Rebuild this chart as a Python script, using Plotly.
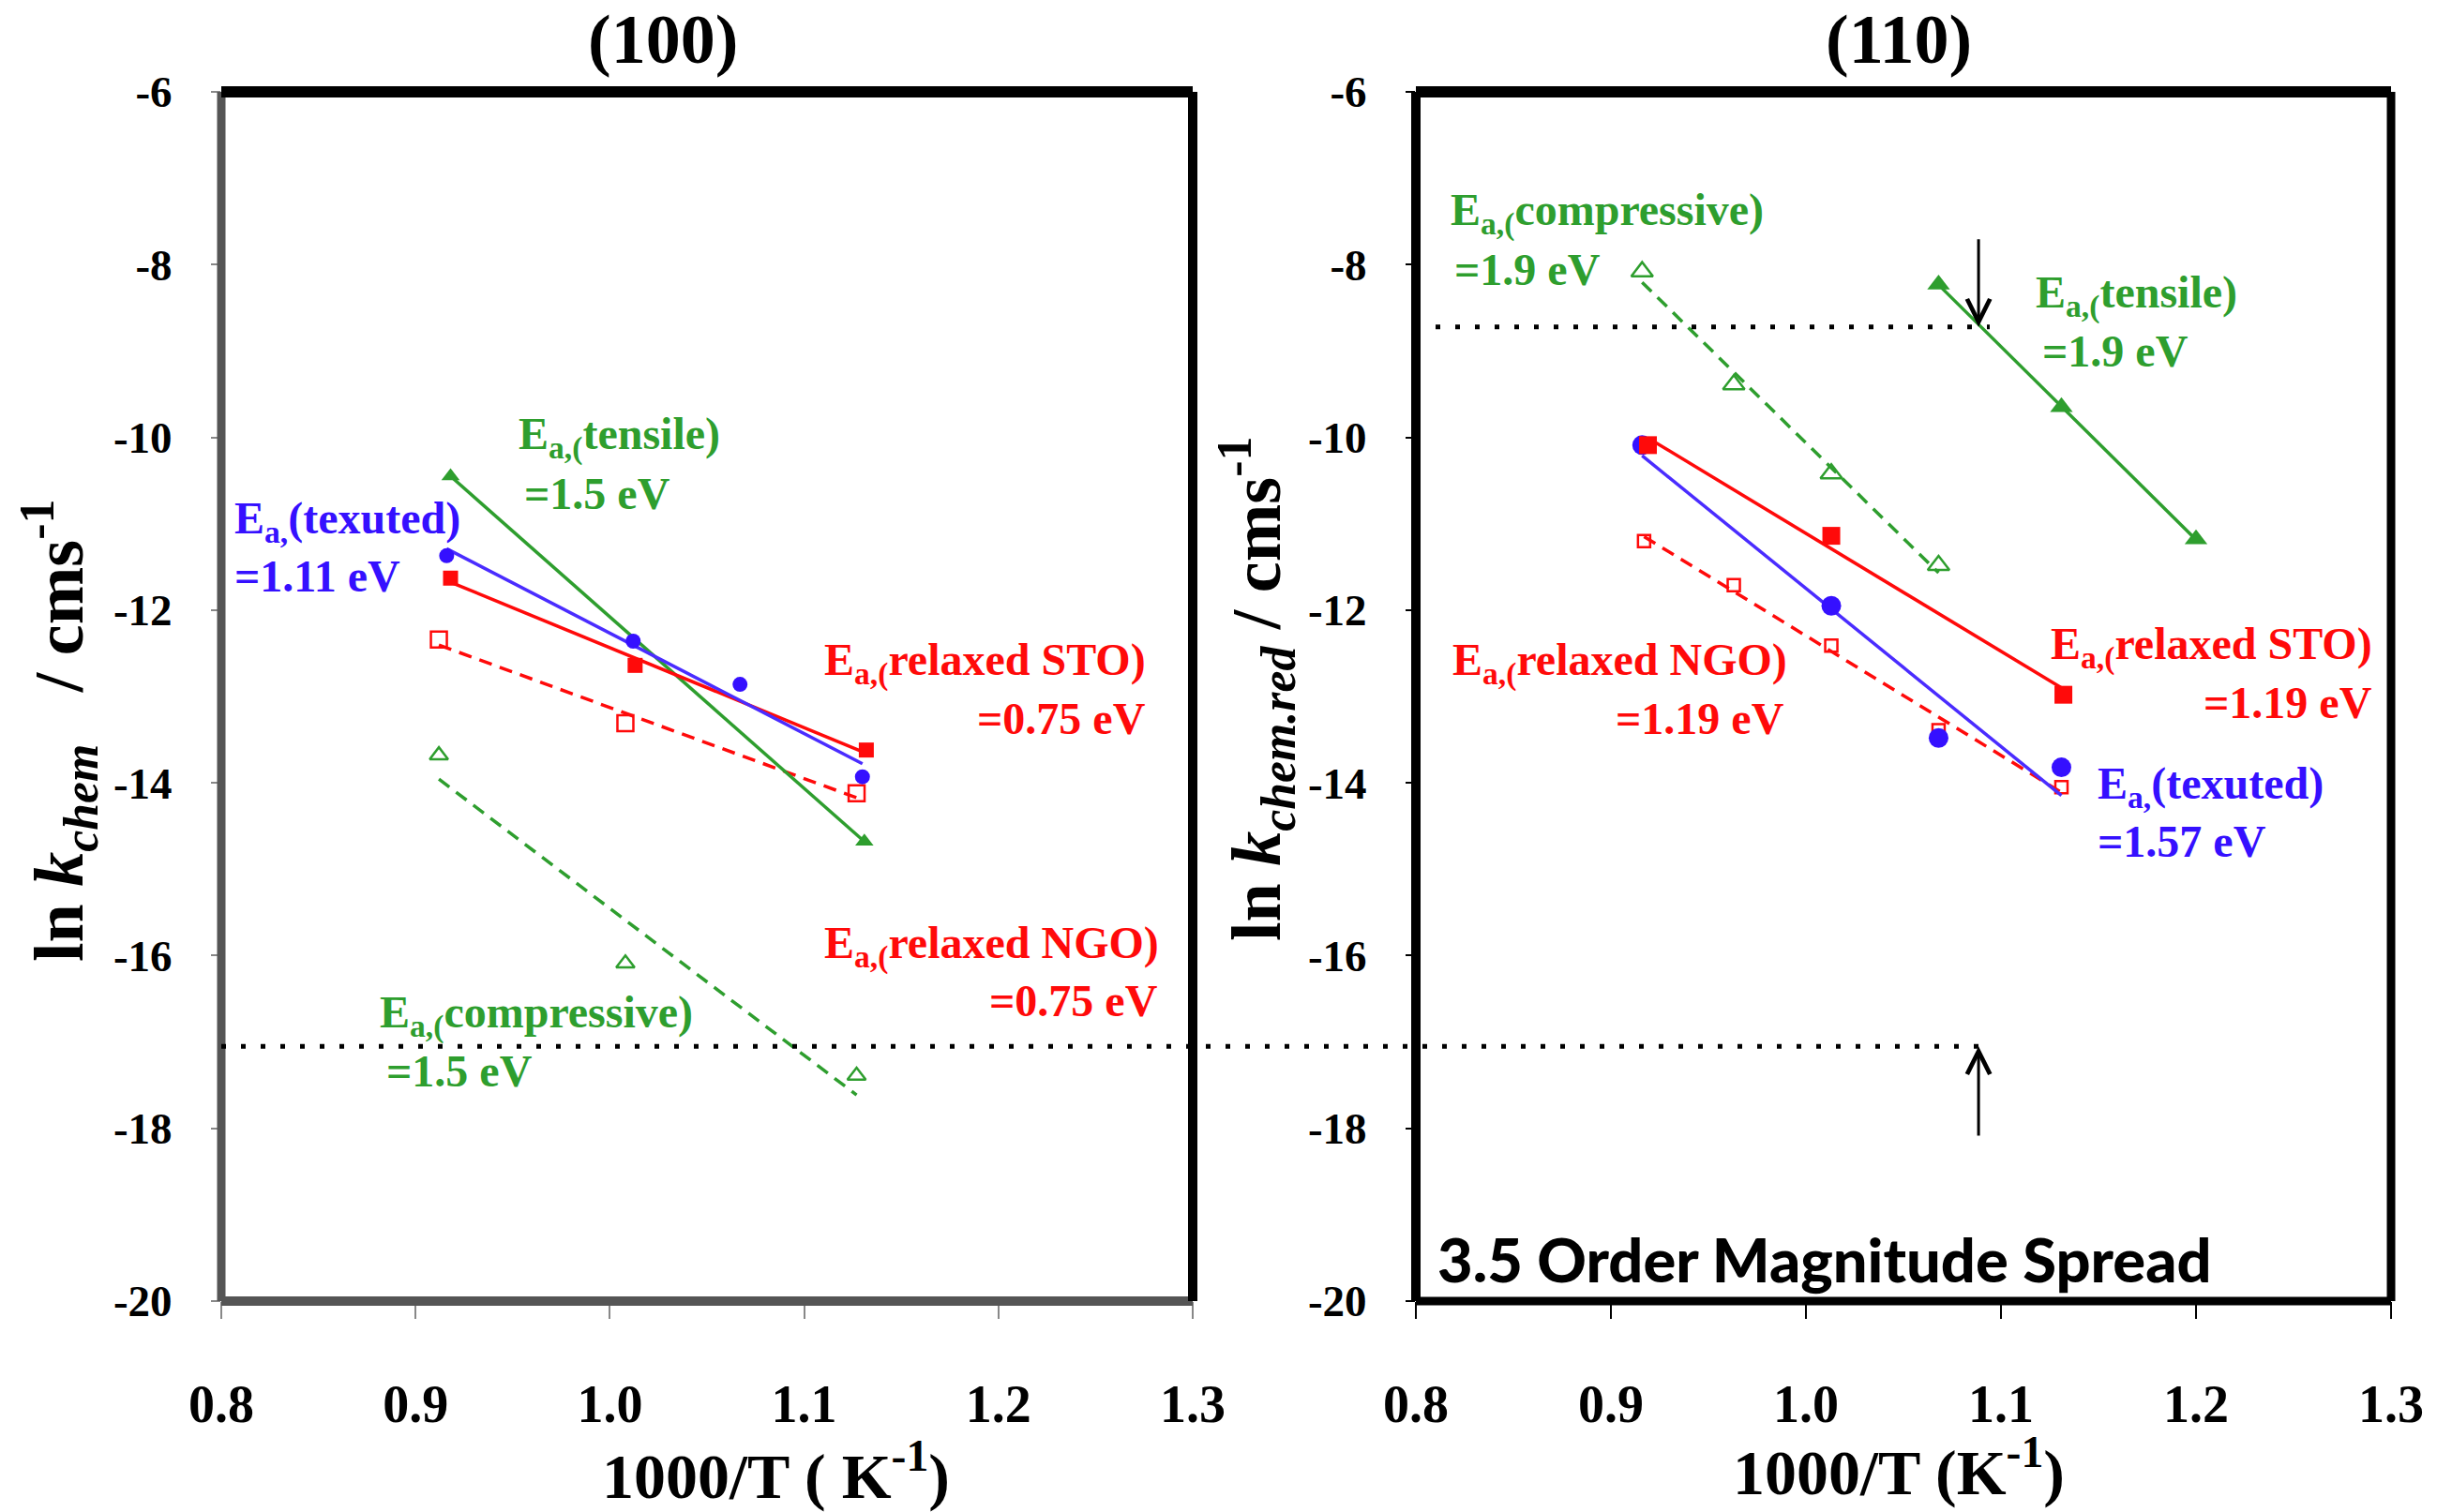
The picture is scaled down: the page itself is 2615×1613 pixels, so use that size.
import numpy as np
import plotly.graph_objects as go

# ---------------- data: (100) panel ----------------
x100_tensile = [0.918, 1.131]
y100_tensile = [-10.45, -14.68]
x100_texuted = [0.916, 1.012, 1.067, 1.130]
y100_texuted = [-11.37, -12.36, -12.86, -13.93]
x100_sto = [0.918, 1.013, 1.132]
y100_sto = [-11.63, -12.64, -13.62]
x100_ngo = [0.912, 1.008, 1.127]
y100_ngo = [-12.34, -13.31, -14.12]
x100_comp = [0.912, 1.008, 1.127]
y100_comp = [-13.68, -16.09, -17.39]

# ---------------- data: (110) panel ----------------
x110_tensile = [1.068, 1.131, 1.200]
y110_tensile = [-8.23, -9.65, -11.18]
x110_comp = [0.916, 0.963, 1.013, 1.068]
y110_comp = [-8.08, -9.39, -10.42, -11.48]
x110_texuted = [0.916, 1.013, 1.068, 1.131]
y110_texuted = [-10.09, -11.95, -13.48, -13.82]
x110_sto = [0.919, 1.013, 1.132]
y110_sto = [-10.09, -11.14, -12.98]
x110_ngo = [0.917, 0.963, 1.013, 1.068, 1.131]
y110_ngo = [-11.20, -11.71, -12.41, -13.39, -14.05]

# reference levels / arrow position
y_level_high = -8.72
y_level_low = -17.05
x_arrow = 1.0885

x_ticks = [0.8, 0.9, 1.0, 1.1, 1.2, 1.3]
x_ticktext = ["0.8", "0.9", "1.0", "1.1", "1.2", "1.3"]
y_ticks = [-20, -18, -16, -14, -12, -10, -8, -6]
y_ticktext = ["-20", "-18", "-16", "-14", "-12", "-10", "-8", "-6"]

W, H = 2615, 1613
BLUE = "#3510ff"
BLUE_LINE = "#4a2cff"
RED = "#ff0a0a"
GREEN = "#2e9e2e"
SERIF = "Liberation Serif"


def fit_line(xs, ys):
    m, b = np.polyfit(xs, ys, 1)
    xe = np.array([min(xs), max(xs)])
    return xe, m * xe + b


fig = go.Figure()


def add_series(xs, ys, color, lcolor, symbol, msize, dash, xa, ya, mline=0):
    fx, fy = fit_line(xs, ys)
    fig.add_trace(go.Scatter(x=fx, y=fy, mode="lines", xaxis=xa, yaxis=ya,
                             line=dict(color=lcolor, width=3.5, dash=dash),
                             showlegend=False, hoverinfo="skip"))
    fig.add_trace(go.Scatter(x=xs, y=ys, mode="markers", xaxis=xa, yaxis=ya,
                             marker=dict(symbol=symbol, size=msize, color=color,
                                         line=dict(color=color, width=mline)),
                             showlegend=False))


DASH = "14px,9px"
# (100)
add_series(x100_comp, y100_comp, GREEN, GREEN, "triangle-up-open", 17, DASH, "x", "y", 2.5)
add_series(x100_ngo, y100_ngo, RED, RED, "square-open", 17, DASH, "x", "y", 2.5)
add_series(x100_tensile, y100_tensile, GREEN, GREEN, "triangle-up", 17, "solid", "x", "y")
add_series(x100_sto, y100_sto, RED, RED, "square", 16, "solid", "x", "y")
add_series(x100_texuted, y100_texuted, BLUE, BLUE_LINE, "circle", 16, "solid", "x", "y")
# (110)
add_series(x110_comp, y110_comp, GREEN, GREEN, "triangle-up-open", 20, DASH, "x2", "y2", 2.5)
add_series(x110_ngo, y110_ngo, RED, RED, "square-open", 13, DASH, "x2", "y2", 2.5)
add_series(x110_tensile, y110_tensile, GREEN, GREEN, "triangle-up", 21, "solid", "x2", "y2")
add_series(x110_texuted, y110_texuted, BLUE, BLUE_LINE, "circle", 21, "solid", "x2", "y2")
add_series(x110_sto, y110_sto, RED, RED, "square", 19, "solid", "x2", "y2")

# domains from pixel layout
L1, R1 = 236 / W, 1272 / W
L2, R2 = 1510 / W, 2550 / W
TOP, BOT = 1 - 98 / H, 1 - 1388 / H

xcommon = dict(range=[0.8, 1.3], tickvals=x_ticks, ticktext=x_ticktext, ticks="outside",
               ticklen=18, tickwidth=2, showline=False, showgrid=False, zeroline=False,
               automargin=False,
               tickfont=dict(family=SERIF, size=56, color="black", weight="bold"),
               ticklabelstandoff=43)
ycommon = dict(range=[-20, -6], tickvals=y_ticks, ticktext=y_ticktext, ticks="outside",
               ticklen=10, tickwidth=2, automargin=False,
               showline=False, showgrid=False, zeroline=False,
               tickfont=dict(family=SERIF, size=47, color="black", weight="bold"),
               ticklabelstandoff=32)

fig.update_layout(
    width=W, height=H, margin=dict(l=0, r=0, t=0, b=0, autoexpand=False),
    paper_bgcolor="white", plot_bgcolor="white", showlegend=False,
    xaxis=dict(domain=[L1, R1], anchor="y", tickcolor="#888888", **xcommon),
    yaxis=dict(domain=[BOT, TOP], anchor="x", tickcolor="#888888", **ycommon),
    xaxis2=dict(domain=[L2, R2], anchor="y2", tickcolor="black", **xcommon),
    yaxis2=dict(domain=[BOT, TOP], anchor="x2", tickcolor="black", **ycommon),
)

shapes = []


def border(xref, yref, x0, y0, x1, y1, color, width):
    shapes.append(dict(type="line", xref=xref, yref=yref, x0=x0, y0=y0, x1=x1, y1=y1,
                       line=dict(color=color, width=width), layer="above"))


# left frame
border("x domain", "y domain", 0, 0, 0, 1, "#555555", 9)
border("x domain", "y domain", 0, 0, 1, 0, "#555555", 10)
border("x domain", "y domain", 0, 1, 1, 1, "black", 12)
border("x domain", "y domain", 1, 0, 1, 1, "black", 10)
# right frame
border("x2 domain", "y2 domain", 0, 0, 0, 1, "black", 10)
border("x2 domain", "y2 domain", 0, 0, 1, 0, "black", 9)
border("x2 domain", "y2 domain", 0, 1, 1, 1, "black", 12)
border("x2 domain", "y2 domain", 1, 0, 1, 1, "black", 9)

# dotted reference levels
DOT = "5px,16px"
shapes.append(dict(type="line", xref="paper", yref="y", x0=L1, x1=2122 / W,
                   y0=y_level_low, y1=y_level_low, line=dict(color="black", width=5, dash=DOT)))
shapes.append(dict(type="line", xref="paper", yref="y2", x0=L2, x1=2122 / W,
                   y0=y_level_high, y1=y_level_high, line=dict(color="black", width=5, dash=DOT)))
fig.update_layout(shapes=shapes)

ann = []


def label(text, x, y, color, xanchor, xref, yref, size=48):
    ann.append(dict(text=text, x=x, y=y, xref=xref, yref=yref, xanchor=xanchor,
                    yanchor="middle", showarrow=False,
                    font=dict(family=SERIF, size=size, color=color, weight="bold")))


EA = "E<sub>a,(</sub>"
# (100) labels
label(EA + "tensile)", 0.952, -10.0, GREEN, "left", "x", "y")
label("=1.5 eV", 0.955, -10.65, GREEN, "left", "x", "y")
label("E<sub>a,</sub>(texuted)", 0.806, -10.97, BLUE, "left", "x", "y")
label("=1.11 eV", 0.806, -11.60, BLUE, "left", "x", "y")
label(EA + "relaxed STO)", 1.277, -12.62, RED, "right", "x", "y")
label("=0.75 eV", 1.277, -13.25, RED, "right", "x", "y")
label(EA + "relaxed NGO)", 1.2836, -15.89, RED, "right", "x", "y")
label("=0.75 eV", 1.283, -16.52, RED, "right", "x", "y")
label(EA + "compressive)", 0.8806, -16.69, GREEN, "left", "x", "y")
label("=1.5 eV", 0.884, -17.34, GREEN, "left", "x", "y")
# (110) labels
label(EA + "compressive)", 0.8168, -7.41, GREEN, "left", "x2", "y2")
label("=1.9 eV", 0.8188, -8.06, GREEN, "left", "x2", "y2")
label(EA + "tensile)", 1.1167, -8.355, GREEN, "left", "x2", "y2")
label("=1.9 eV", 1.1202, -9.00, GREEN, "left", "x2", "y2")
label(EA + "relaxed NGO)", 0.9913, -12.62, RED, "right", "x2", "y2")
label("=1.19 eV", 0.9898, -13.26, RED, "right", "x2", "y2")
label(EA + "relaxed STO)", 1.2913, -12.43, RED, "right", "x2", "y2")
label("=1.19 eV", 1.2913, -13.07, RED, "right", "x2", "y2")
label("E<sub>a,</sub>(texuted)", 1.1484, -14.04, BLUE, "left", "x2", "y2")
label("=1.57 eV", 1.1484, -14.68, BLUE, "left", "x2", "y2")

ann.append(dict(text="3.5 Order Magnitude Spread", x=0.8099, y=-19.51, xref="x2", yref="y2",
                xanchor="left", yanchor="middle", showarrow=False,
                font=dict(family="Lato", size=65, color="black", weight=900)))

# arrows
ann.append(dict(text="", x=x_arrow, y=y_level_high, ax=x_arrow, ay=-7.69, xref="x2", yref="y2",
                axref="x2", ayref="y2", showarrow=True, arrowhead=5, arrowsize=1.6,
                arrowwidth=3, arrowcolor="black"))
ann.append(dict(text="", x=x_arrow, y=y_level_low, ax=x_arrow, ay=-18.10, xref="x2", yref="y2",
                axref="x2", ayref="y2", showarrow=True, arrowhead=5, arrowsize=1.6,
                arrowwidth=3, arrowcolor="black"))

# titles
def ptext(text, fx, fy, size, angle=0):
    ann.append(dict(text=text, x=fx / W, y=1 - fy / H, xref="paper", yref="paper",
                    xanchor="center", yanchor="middle", showarrow=False, textangle=angle,
                    font=dict(family=SERIF, size=size, color="black", weight="bold")))


ptext("(100)", 707, 42, 74)
ptext("(110)", 2025, 42, 74)
ptext("1000/T ( K<sup>-1</sup>)", 827, 1570, 68)
ptext("1000/T (K<sup>-1</sup>)", 2025, 1566, 68)
ptext("ln <i>k</i><sub><i>chem</i></sub>   / cms<sup>-1</sup>", 63, 780, 74, -90)
ptext("ln <i>k</i><sub><i>chem.red</i></sub> / cms<sup>-1</sup>", 1340, 735, 74, -90)

fig.update_layout(annotations=ann)
fig.write_html("out.html")
